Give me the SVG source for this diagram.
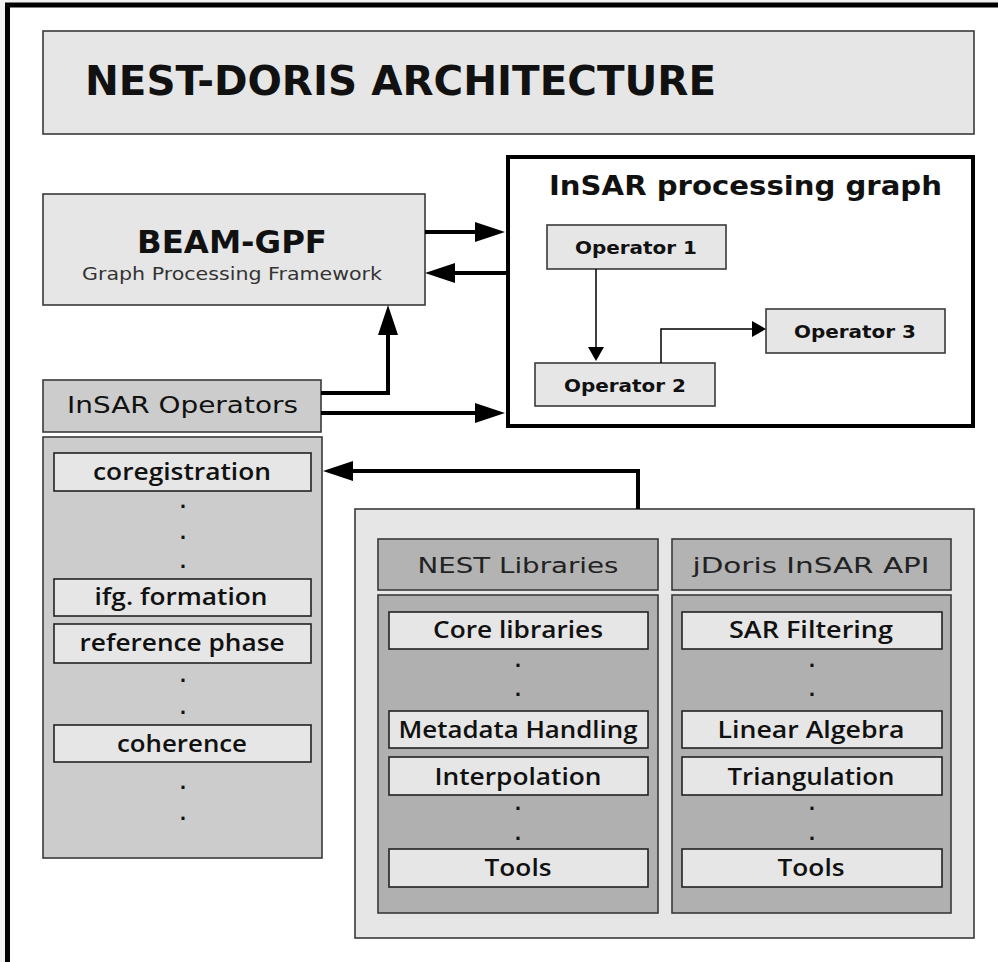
<svg xmlns="http://www.w3.org/2000/svg" width="998" height="962" viewBox="0 0 998 962">
<style>
text{font-family:"DejaVu Sans","Verdana",sans-serif;fill:#111}
.box{fill:#e6e6e6;stroke:#3a3a3a;stroke-width:1.6}
.mid{fill:#cccccc;stroke:#3a3a3a;stroke-width:1.6}
.dark{fill:#b3b3b3;stroke:#3a3a3a;stroke-width:1.6}
.item{fill:#e6e6e6;stroke:#222;stroke-width:1.6}
.it{font-family:"Open Sans","DejaVu Sans",sans-serif;font-size:23px;font-weight:600;text-anchor:middle}
.hd{font-size:22px;text-anchor:middle;fill:#222}
.op{font-size:18px;font-weight:bold;text-anchor:middle}
.dot{font-size:17px;font-weight:bold;text-anchor:middle}
.thick{fill:none;stroke:#000;stroke-width:4}
.thin{fill:none;stroke:#000;stroke-width:1.5}
</style>
<defs>
<marker id="big" markerUnits="userSpaceOnUse" markerWidth="31" markerHeight="21" refX="0" refY="10" orient="auto" viewBox="0 0 31 21">
<path d="M0,0 L30,10 L0,20 z" fill="#000"/>
</marker>
<marker id="small" markerUnits="userSpaceOnUse" markerWidth="15" markerHeight="17" refX="0" refY="8" orient="auto" viewBox="0 0 15 17">
<path d="M0,0 L14,8 L0,16 z" fill="#000"/>
</marker>
</defs>
<rect x="0" y="0" width="998" height="962" fill="#f2f2f2"/>
<rect x="7.5" y="5" width="1000" height="970" fill="#ffffff" stroke="#000" stroke-width="5"/>

<g id="title">
<rect class="box" x="43" y="31" width="931" height="103"/>
<text x="85" y="95" font-size="40" font-weight="bold" textLength="631" lengthAdjust="spacingAndGlyphs">NEST-DORIS ARCHITECTURE</text>
</g>

<g id="beam-gpf">
<rect class="box" x="43" y="194" width="382" height="111"/>
<text x="232" y="253" font-size="32" font-weight="bold" text-anchor="middle" textLength="190" lengthAdjust="spacingAndGlyphs">BEAM-GPF</text>
<text x="82" y="280" font-size="17" style="fill:#333" textLength="300" lengthAdjust="spacingAndGlyphs">Graph Processing Framework</text>
</g>

<g id="processing-graph">
<rect x="508" y="157" width="465" height="269" fill="#fff" stroke="#000" stroke-width="4"/>
<text x="549" y="195" font-size="27" font-weight="bold" textLength="393" lengthAdjust="spacingAndGlyphs">InSAR processing graph</text>
</g>

<g id="operator1">
<rect class="box" x="547" y="225" width="179" height="44"/>
<text class="op" x="636" y="254" textLength="122" lengthAdjust="spacingAndGlyphs">Operator 1</text>
</g>
<g id="operator2">
<rect class="box" x="535" y="363" width="180" height="43"/>
<text class="op" x="625" y="392" textLength="122" lengthAdjust="spacingAndGlyphs">Operator 2</text>
</g>
<g id="operator3">
<rect class="box" x="766" y="309" width="179" height="44"/>
<text class="op" x="855" y="338" textLength="122" lengthAdjust="spacingAndGlyphs">Operator 3</text>
</g>

<g id="insar-operators">
<rect class="mid" x="43" y="380" width="278" height="52"/>
<text x="67" y="413" font-size="23" textLength="231" lengthAdjust="spacingAndGlyphs">InSAR Operators</text>
</g>

<g id="operator-list">
<rect class="mid" x="43" y="437" width="279" height="421"/>
<rect class="item" x="54" y="453" width="257" height="38"/>
<text class="it" x="182" y="480" textLength="178" lengthAdjust="spacingAndGlyphs">coregistration</text>
<text class="dot" x="183" y="508">.</text>
<text class="dot" x="183" y="539">.</text>
<text class="dot" x="183" y="568">.</text>
<rect class="item" x="54" y="579" width="257" height="37"/>
<text class="it" x="181" y="605" textLength="173" lengthAdjust="spacingAndGlyphs">ifg. formation</text>
<rect class="item" x="54" y="624" width="257" height="39"/>
<text class="it" x="182" y="651" textLength="205" lengthAdjust="spacingAndGlyphs">reference phase</text>
<text class="dot" x="183" y="682">.</text>
<text class="dot" x="183" y="714">.</text>
<rect class="item" x="54" y="725" width="257" height="37"/>
<text class="it" x="182" y="752" textLength="130" lengthAdjust="spacingAndGlyphs">coherence</text>
<text class="dot" x="183" y="789">.</text>
<text class="dot" x="183" y="820">.</text>
</g>

<g id="libraries">
<rect class="box" x="355" y="509" width="619" height="429"/>
</g>

<g id="nest-libraries">
<rect class="dark" x="378" y="539" width="280" height="51"/>
<text class="hd" x="518" y="573" textLength="201" lengthAdjust="spacingAndGlyphs">NEST Libraries</text>
<rect class="dark" x="378" y="595" width="280" height="318" style="fill:#b0b0b0"/>
<rect class="item" x="389" y="612" width="259" height="37"/>
<text class="it" x="518" y="638" textLength="170" lengthAdjust="spacingAndGlyphs">Core libraries</text>
<text class="dot" x="518" y="667">.</text>
<text class="dot" x="518" y="696">.</text>
<rect class="item" x="389" y="711" width="259" height="37"/>
<text class="it" x="518" y="738" textLength="239" lengthAdjust="spacingAndGlyphs">Metadata Handling</text>
<rect class="item" x="389" y="757" width="259" height="38"/>
<text class="it" x="518" y="785" textLength="167" lengthAdjust="spacingAndGlyphs">Interpolation</text>
<text class="dot" x="518" y="810">.</text>
<text class="dot" x="518" y="840">.</text>
<rect class="item" x="389" y="849" width="259" height="38"/>
<text class="it" x="518" y="876" textLength="67" lengthAdjust="spacingAndGlyphs">Tools</text>
</g>

<g id="jdoris-api">
<rect class="dark" x="672" y="539" width="279" height="51"/>
<text class="hd" x="811" y="573" textLength="237" lengthAdjust="spacingAndGlyphs">jDoris InSAR API</text>
<rect class="dark" x="672" y="595" width="279" height="318" style="fill:#b0b0b0"/>
<rect class="item" x="682" y="612" width="260" height="37"/>
<text class="it" x="811" y="638" textLength="164" lengthAdjust="spacingAndGlyphs">SAR Filtering</text>
<text class="dot" x="812" y="667">.</text>
<text class="dot" x="812" y="696">.</text>
<rect class="item" x="682" y="711" width="260" height="37"/>
<text class="it" x="811" y="738" textLength="187" lengthAdjust="spacingAndGlyphs">Linear Algebra</text>
<rect class="item" x="682" y="757" width="260" height="38"/>
<text class="it" x="811" y="785" textLength="167" lengthAdjust="spacingAndGlyphs">Triangulation</text>
<text class="dot" x="812" y="810">.</text>
<text class="dot" x="812" y="840">.</text>
<rect class="item" x="682" y="849" width="260" height="38"/>
<text class="it" x="811" y="876" textLength="67" lengthAdjust="spacingAndGlyphs">Tools</text>
</g>

<g id="connectors">
<path class="thick" d="M425,232 H475" marker-end="url(#big)"/>
<path class="thick" d="M507,273 H455" marker-end="url(#big)"/>
<path class="thick" d="M321,393 H388 V335" marker-end="url(#big)"/>
<path class="thick" d="M321,413 H475" marker-end="url(#big)"/>
<path class="thick" d="M638,509 V471 H353" marker-end="url(#big)"/>
<path class="thin" d="M596,269 V347" marker-end="url(#small)"/>
<path class="thin" d="M661,363 V329 H752" marker-end="url(#small)"/>
</g>
</svg>
